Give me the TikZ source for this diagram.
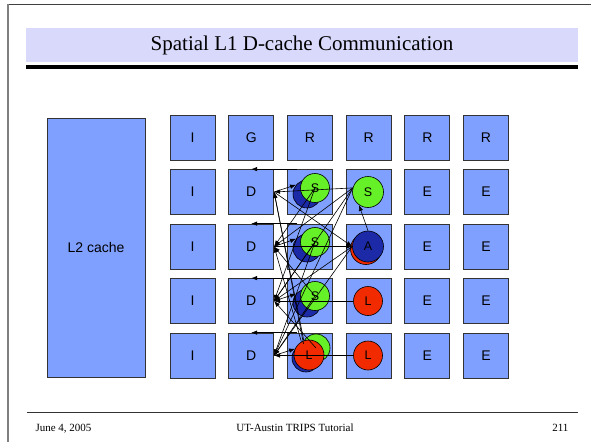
\documentclass[tikz,border=0pt]{standalone}
\usepackage{fontspec}
\setmainfont{Liberation Serif}
\newfontfamily\arialf{Liberation Sans}
\usetikzlibrary{arrows.meta,calc}
\definecolor{tilefill}{RGB}{128,160,255}
\definecolor{bandfill}{RGB}{217,217,252}
\definecolor{grnfill}{RGB}{102,240,40}
\definecolor{bluefill}{RGB}{28,42,168}
\definecolor{redfill}{RGB}{242,42,0}
\begin{document}
\begin{tikzpicture}[x=1pt,y=-1pt,
  tile/.style={draw=black!80, line width=0.8pt, fill=tilefill, minimum width=45pt, minimum height=45pt, inner sep=0pt, font=\arialf\fontsize{14}{16}\selectfont, text=black},
  disc/.style={circle, draw=black, line width=0.6pt, minimum size=#1, inner sep=0pt, font=\arialf\fontsize{12.5}{14}\selectfont},
  grn/.style={disc=29pt, fill=grnfill},
  blu/.style={disc=28pt, fill=bluefill},
  rd/.style={disc=30pt, fill=redfill},
  arr/.style={line width=0.6pt, -{Latex[length=6pt,width=4.5pt]}},
  foot/.style={font=\fontsize{11}{12}\selectfont, anchor=base}
]
\useasboundingbox (0,0) rectangle (591,442);
\fill[white] (0,0) rectangle (591,442);
% frame
\draw[black!75, line width=1.5pt] (7,4.5) -- (591,4.5);
\draw[black!50, line width=2pt] (7.5,4) -- (7.5,442);
% title band
\fill[bandfill] (26,28) rectangle (578,62);
\node[font=\fontsize{21}{24}\selectfont] (title) at (302,45) {Spatial L1 D-cache Communication};
\draw[black, line width=4pt] (26,67) -- (578,67);
% footer
\draw[black!80, line width=0.9pt] (27,412) -- (578,412);
\node[foot, anchor=base west] (date) at (32,431) {June 4, 2005};
\node[foot] (tut) at (295,431) {UT-Austin TRIPS Tutorial};
\node[foot, anchor=base east] (page) at (572,431) {211};
% L2 cache
\node[tile, minimum width=98pt, minimum height=259pt] (l2) at (96,247.5) {};
\node[font=\arialf\fontsize{14}{16}\selectfont] (l2t) at (96,247) {L2 cache};
% tiles
\foreach \r/\labs in {1/{I,G,R,R,R,R},2/{I,D,,,E,E},3/{I,D,,,E,E},4/{I,D,,,E,E},5/{I,D,,,E,E}}{
  \foreach \l [count=\c] in \labs {
    \node[tile] (t-\r-\c) at ({192.5+58.7*(\c-1)},{137.5+54.5*(\r-1)}) {\l};
  }
}
% circles column 3
\node[blu] (b2) at (307,194) {};
\node[grn] (g2) at (315,188) {S};
\node[blu] (b3) at (307,248) {};
\node[grn] (g3) at (315,242) {S};
\node[blu] (b4) at (307,303) {};
\node[grn] (g4) at (315,296) {S};
\node[blu] (b5) at (306,358) {};
\node[grn, disc=28pt] (g5) at (316,348) {};
\node[rd] (lc) at (309,355) {L};
% circles column 4
\node[grn, disc=31pt] (s4) at (368,192) {S};
\node[rd, disc=31pt] (r3) at (366,249) {};
\node[blu, disc=31pt] (a3) at (368,246.5) {A};
\node[rd, disc=29pt] (l4) at (368,301) {L};
\node[rd, disc=29pt] (l5) at (368,355.5) {L};
% top-edge arrows
\foreach \r in {2,3,4,5}{
  \draw[arr] ($(t-\r-3.north west)+(10,0)$) -- (t-\r-2.north);
}
% row 2
\draw[arr] (s4.165) -- (t-2-2.east);
\draw[arr] (t-2-2.east) -- (b2.140);
\draw[arr] (lc.110) -- (t-2-2.east);
\draw[arr] (b5.100) -- (t-2-2.east);
\draw[arr] (t-2-2.east) -- (a3.west);
% row 3
\draw[arr] (s4.165) -- (t-3-2.east);
\draw[arr] (t-3-2.east) -- (a3.west);
\draw[arr] (t-3-2.east) -- (b3.140);
\draw[arr] (g4.center) -- (t-3-2.east);
\draw[arr] (lc.120) -- (t-3-2.east);
\draw[arr] (g2.center) -- (t-3-2.east);
% row 4
\draw[arr] (l4.west) -- (t-4-2.east);
\draw[arr] (s4.165) -- (t-4-2.east);
\draw[arr] (a3.west) -- (t-4-2.east);
\draw[arr] (t-4-2.east) -- (b4.140);
\draw[arr] (g3.center) -- (t-4-2.east);
\draw[arr] (g2.center) -- (t-4-2.east);
\draw[arr] (g5.center) -- (t-4-2.east);
% row 5
\draw[arr] (l5.west) -- (t-5-2.east);
\draw[arr] (s4.165) -- (t-5-2.east);
\draw[arr] (a3.west) -- (t-5-2.east);
\draw[arr] (g4.center) -- (t-5-2.east);
\draw[arr] (t-5-2.east) -- (b5.140);
\draw[arr] (g3.center) -- (t-5-2.east);
% A to S
\draw[arr] (a3.north) -- (s4.235);
\end{tikzpicture}
\end{document}
